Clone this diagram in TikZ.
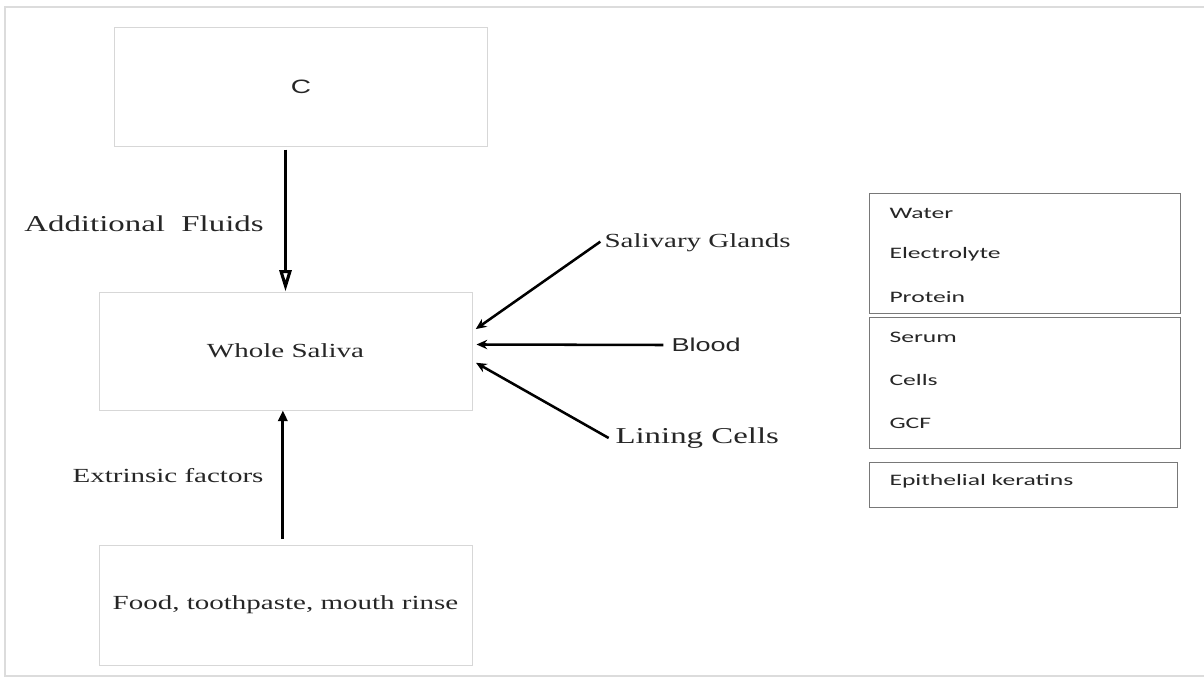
\documentclass[tikz,border=0pt]{standalone}
\usepackage{fontspec}
\usetikzlibrary{arrows.meta}
\newfontfamily\serifwide[FakeStretch=1.45]{Liberation Serif}
\newfontfamily\sanswide[FakeStretch=1.45]{Liberation Sans}
\newfontfamily\listwide[FakeStretch=1.6]{Carlito}
\definecolor{framegray}{RGB}{220,220,220}
\definecolor{boxgray}{RGB}{215,215,215}
\definecolor{listgray}{RGB}{120,120,120}
\tikzset{every picture/.style={line width=0.75pt}}
\tikzset{
  flowbox/.style={draw=boxgray, line width=0.75pt, minimum width=279.75pt, minimum height=89pt, inner sep=0pt},
  listbox/.style={draw=listgray, line width=1.1pt, minimum width=233.25pt, inner sep=0pt},
  serif label/.style={font=\serifwide\fontsize{15}{18}\selectfont, inner sep=0.75pt, text=black!85},
  sans label/.style={font=\sanswide\fontsize{14}{17}\selectfont, inner sep=0.75pt, text=black!85},
  list label/.style={font=\listwide\fontsize{12}{14}\selectfont, anchor=west, inner sep=0.75pt, text=black!85},
  feed/.style={line width=1.9pt, -{Stealth[length=8pt,width=7pt]}, shorten >=3pt}
}

\begin{document}
\begin{tikzpicture}[x=0.75pt,y=0.75pt,yscale=-1,xscale=1]
\useasboundingbox (0,0) rectangle (1204,679);

%Frame
\draw [color=framegray, line width=1.2pt] (1204,7) -- (5,7) -- (5,676) -- (1204,676) ;

% Flow boxes
\node [flowbox, font=\sanswide\fontsize{14.5}{17}\selectfont, text=black!85] (source) at (301,87) {C};
\node [flowbox, serif label, minimum height=88.5pt, inner sep=0pt] (saliva) at (285.5,351) {Whole Saliva};
\node [flowbox, serif label, minimum height=90pt, inner sep=0pt] (food) at (285.5,605) {Food, toothpaste, mouth rinse};

% Vertical arrows
\draw [line width=2.3pt, -{Triangle[open,length=16pt,width=9pt]}, shorten <=2pt] (source.south -| saliva.north) -- (saliva.north) ;
\draw [line width=2.3pt, -{Triangle[length=8pt,width=7pt]}, shorten <=4pt] ([xshift=-2pt]food.north) -- ([xshift=-2pt]saliva.south) ;

% Text Node
\node [serif label, font=\serifwide\fontsize{17}{18}\selectfont] (fluids) at (144,224) {Additional\ \ Fluids};
% Text Node
\node [serif label] (extrinsic) at (168,476) {Extrinsic factors};

% Sources on the right
\node [serif label, anchor=west] (glands) at (603,243) {Salivary Glands};
\node [sans label, anchor=west] (blood) at (670,345) {Blood};
\node [serif label, anchor=west, font=\serifwide\fontsize{17}{18}\selectfont] (lining) at (614,438) {Lining Cells};

\draw [feed] ([xshift=-2pt,yshift=-1pt]glands.west) -- (saliva.6) ;
\draw [feed] ([xshift=-5pt]blood.west) -- (saliva.2) ;
\draw [feed] ([xshift=-4pt]lining.west) -- (saliva.-3) ;

% Composition boxes
\node [listbox, minimum height=90pt, anchor=north west] (fluidbox) at (869,193) {};
\node [listbox, minimum height=98.25pt, anchor=north west] (bloodbox) at (869,317) {};
\node [listbox, minimum width=231pt, minimum height=33.75pt, anchor=north west] (cellbox) at (869,462) {};

\foreach \y/\t in {213/Water, 254/Electrolyte, 297/Protein, 337/Serum, 380/Cells, 423/GCF, 481/Epithelial keratins}
  \node [list label] (item\y) at (888,\y) {\t};

\end{tikzpicture}
\end{document}
